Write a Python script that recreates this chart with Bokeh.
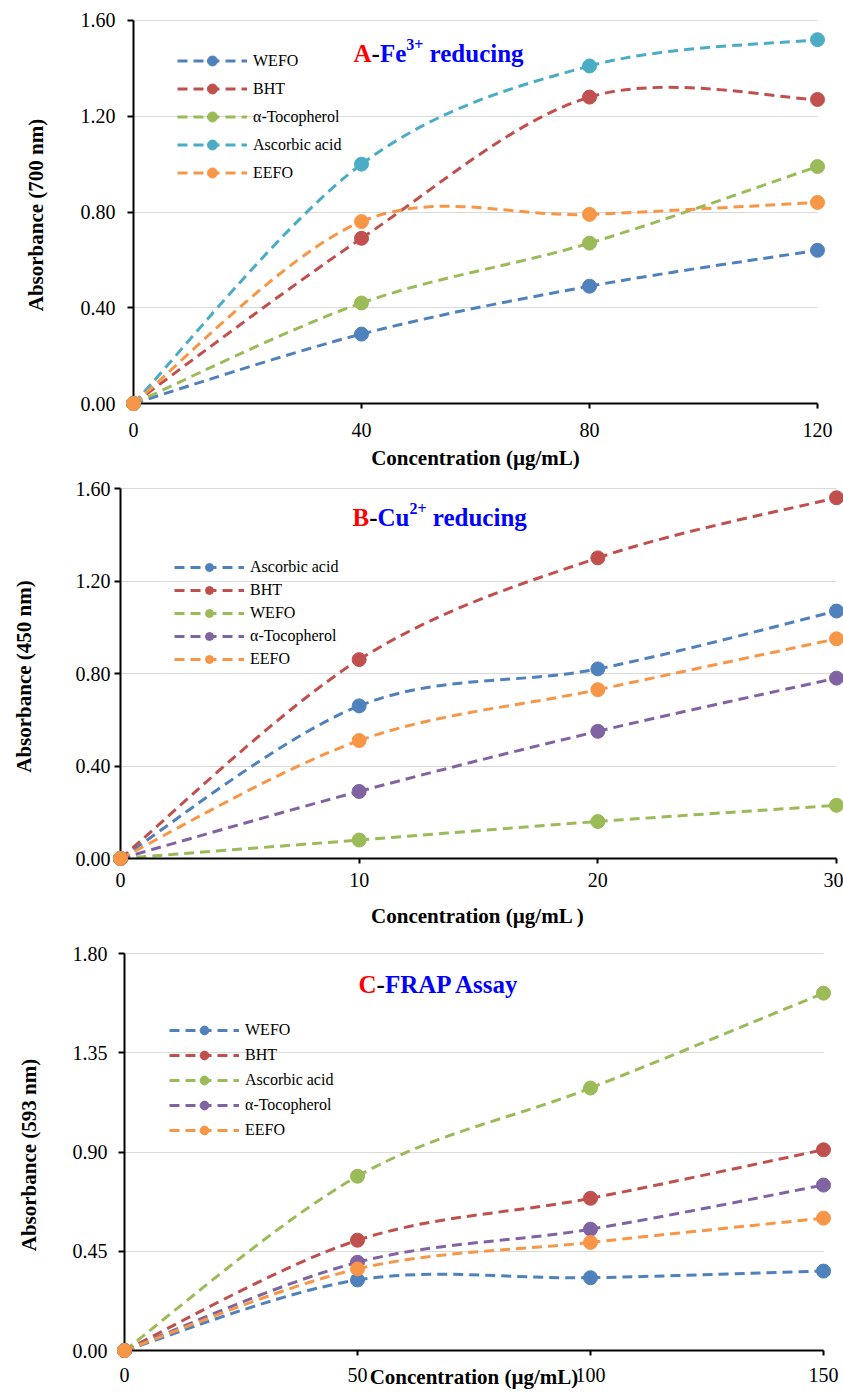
import numpy as np
from bokeh.plotting import figure
from bokeh.models import (Legend, LegendItem, Label, FixedTicker, PrintfTickFormatter, Range1d,
                          LinearAxis)
from bokeh.embed import file_html
from bokeh.resources import INLINE

# ---------------- data ----------------
a_conc = [0, 40, 80, 120]
a_wefo = [0, 0.29, 0.49, 0.64]
a_bht = [0, 0.69, 1.28, 1.27]
a_toco = [0, 0.42, 0.67, 0.99]
a_asc = [0, 1.00, 1.41, 1.52]
a_eefo = [0, 0.76, 0.79, 0.84]
a_yticks = [0, 0.4, 0.8, 1.2, 1.6]

b_conc = [0, 10, 20, 30]
b_asc = [0, 0.66, 0.82, 1.07]
b_bht = [0, 0.86, 1.30, 1.56]
b_wefo = [0, 0.08, 0.16, 0.23]
b_toco = [0, 0.29, 0.55, 0.78]
b_eefo = [0, 0.51, 0.73, 0.95]
b_yticks = [0, 0.4, 0.8, 1.2, 1.6]

c_conc = [0, 50, 100, 150]
c_wefo = [0, 0.32, 0.33, 0.36]
c_bht = [0, 0.50, 0.69, 0.91]
c_asc = [0, 0.79, 1.19, 1.62]
c_toco = [0, 0.40, 0.55, 0.75]
c_eefo = [0, 0.37, 0.49, 0.60]
c_yticks = [0, 0.45, 0.9, 1.35, 1.8]

BLUE, RED, GREEN, PURPLE, AQUA, ORANGE = "#4F81BD", "#C0504D", "#9BBB59", "#8064A2", "#4BACC6", "#F79646"
FONT = "Liberation Serif"

# Times bold advance widths (em/1000) for the title pieces
TW = {"A": 722, "B": 667, "C": 722, "F": 611, "P": 611, "R": 722, "a": 500, "c": 444, "d": 556,
      "e": 444, "g": 500, "i": 278, "n": 556, "r": 444, "s": 389, "u": 556, "y": 500, " ": 250,
      "-": 333, "2": 500, "3": 500, "+": 570}


def tw(text, size):
    return sum(TW.get(ch, 500) for ch in text) * size / 1000.0


def smooth(x, y):
    x = np.asarray(x, float)
    y = np.asarray(y, float)
    n = len(x)
    qx = np.concatenate([[x[0]], x, [x[-1]]])
    qy = np.concatenate([[y[0]], y, [y[-1]]])
    cx0 = qx[1:n] + (qx[2:n + 1] - qx[0:n - 1]) / 6
    cy0 = qy[1:n] + (qy[2:n + 1] - qy[0:n - 1]) / 6
    cx1 = qx[2:n + 1] - (qx[3:n + 2] - qx[1:n]) / 6
    cy1 = qy[2:n + 1] - (qy[3:n + 2] - qy[1:n]) / 6
    return dict(x0=x[:-1], y0=y[:-1], x1=x[1:], y1=y[1:], cx0=cx0, cy0=cy0, cx1=cx1, cy1=cy1)


def make_panel(P):
    W = 843
    H = P["height"]
    top = P["top_abs"]
    axL = P["axL"]
    axR = P["axR"]
    axT = P["axT"] - top
    axB = P["axB"] - top
    xmax, ymax = P["xmax"], P["ymax"]
    xppu = (axR - axL) / xmax
    yppu = (axB - axT) / ymax
    pad = 8
    fL, fR, fT, fB = axL - pad, min(axR + pad, W), axT - 2, axB + pad
    p = figure(width=W, height=H,
               x_range=Range1d(-pad / xppu, xmax + (fR - axR) / xppu),
               y_range=Range1d(-pad / yppu, ymax + (axT - fT) / yppu),
               output_backend="svg", toolbar_location=None,
               min_border_left=fL, min_border_right=W - fR,
               min_border_top=fT, min_border_bottom=H - fB)
    p.outline_line_color = None
    p.background_fill_color = "white"

    def dx(absx):
        return (absx - axL) / xppu

    def dy(absy):
        return (axB - (absy - top)) / yppu

    # axes at the frame edge: only tick labels and axis titles
    xa = p.xaxis[0]
    ya = p.yaxis[0]
    for ax in (xa, ya):
        ax.axis_line_color = None
        ax.major_tick_line_color = None
        ax.minor_tick_line_color = None
        ax.major_tick_in = 0
        ax.major_tick_out = 0
        ax.major_label_text_font = FONT
        ax.major_label_text_font_size = "20px"
        ax.major_label_text_color = "black"
        ax.axis_label_text_font = FONT
        ax.axis_label_text_font_style = "bold"
        ax.axis_label_text_font_size = "21px"
        ax.axis_label_text_color = "black"
    xa.ticker = FixedTicker(ticks=P["xticks"])
    ya.ticker = FixedTicker(ticks=P["yticks"])
    ya.formatter = PrintfTickFormatter(format="%.2f")
    xa.major_label_standoff = P["xstand"]
    ya.major_label_standoff = P["ystand"]
    xa.axis_label = P["xlabel"]
    ya.axis_label = P["ylabel"]
    xa.axis_label_standoff = P["xlstand"]
    ya.axis_label_standoff = P["ylstand"]

    # axis lines and ticks drawn at the data origin
    for side, ticks, bnd, tout in (("below", P["xticks"], (0, xmax), 5),
                                   ("left", P["yticks"], (0, ymax), 6)):
        ln = LinearAxis(fixed_location=0, bounds=bnd, ticker=FixedTicker(ticks=ticks),
                        axis_line_color="black", axis_line_width=2,
                        major_tick_line_color="black", major_tick_line_width=2,
                        major_tick_in=0, major_tick_out=tout, minor_tick_line_color=None,
                        major_label_text_color=None, major_label_text_font_size="1px")
        p.add_layout(ln, side)

    p.xgrid.visible = False
    p.ygrid.grid_line_color = "#D9D9D9"
    p.ygrid.grid_line_width = 1
    try:
        p.ygrid.cross_bounds = (0, xmax)
    except Exception:
        pass

    items = []
    for label, vals, color in P["series"]:
        bz = p.bezier(line_color=color, line_width=3, line_dash="10 6", **smooth(P["x"], vals))
        sc = p.scatter(P["x"], vals, size=14, marker="circle", fill_color=color,
                       line_color=color, level="overlay")
        items.append(LegendItem(label=label, renderers=[bz, sc]))

    row = P["leg_row"]
    sp = 3
    gh = row - sp
    leg_top = P["leg_row1"] - top - gh / 2
    leg_height = 5 * gh + 4 * sp
    vy = fB - (leg_top + leg_height)
    vx = P["leg_x"] - fL
    legend = Legend(items=items, location=(int(round(vx)), int(round(vy))),
                    background_fill_alpha=0, border_line_alpha=0, padding=0, margin=0,
                    spacing=sp, glyph_width=70, glyph_height=gh, label_height=gh,
                    label_standoff=6, label_text_font=FONT, label_text_font_size="16px",
                    label_text_color="black")
    p.add_layout(legend)

    # multi-coloured title
    tx, tyb = P["title_xy"]
    off = 0.0
    for txt, col, size, sup in P["title"]:
        lead = len(txt) - len(txt.lstrip(" "))
        off += tw(" " * lead, 25)
        t = txt.strip(" ")
        p.add_layout(Label(x=dx(tx), y=dy(tyb), x_offset=off, y_offset=9 if sup else 0,
                           text=t, text_color=col, text_font=FONT, text_font_style="bold",
                           text_font_size=f"{size}px", text_baseline="alphabetic",
                           text_align="left"))
        off += tw(t, size)
    return p


pA = make_panel(dict(
    height=472, top_abs=0, axL=133, axR=817, axT=20, axB=404, xmax=120, ymax=1.6,
    x=a_conc, xticks=a_conc, yticks=a_yticks,
    xstand=11, ystand=10, xlstand=6, ylstand=30,
    xlabel="Concentration (µg/mL)", ylabel="Absorbance (700 nm)",
    series=[("WEFO", a_wefo, BLUE), ("BHT", a_bht, RED), ("α-Tocopherol", a_toco, GREEN),
            ("Ascorbic acid", a_asc, AQUA), ("EEFO", a_eefo, ORANGE)],
    leg_row=28, leg_row1=62, leg_x=177,
    title_xy=(353, 53),
    title=[("A", "#FF0000", 25, False), ("-", "black", 25, False), ("Fe", "#0000FF", 25, False),
           ("3+", "#0000FF", 16, True), (" reducing", "#0000FF", 25, False)],
))

pB = make_panel(dict(
    height=460, top_abs=472, axL=120, axR=836, axT=488, axB=858, xmax=30, ymax=1.6,
    x=b_conc, xticks=b_conc, yticks=b_yticks,
    xstand=6, ystand=2, xlstand=14, ylstand=37,
    xlabel="Concentration (µg/mL )", ylabel="Absorbance (450 nm)",
    series=[("Ascorbic acid", b_asc, BLUE), ("BHT", b_bht, RED), ("WEFO", b_wefo, GREEN),
            ("α-Tocopherol", b_toco, PURPLE), ("EEFO", b_eefo, ORANGE)],
    leg_row=23, leg_row1=567, leg_x=174,
    title_xy=(352, 517),
    title=[("B", "#FF0000", 25, False), ("-", "black", 25, False), ("Cu", "#0000FF", 25, False),
           ("2+", "#0000FF", 16, True), (" reducing", "#0000FF", 25, False)],
))

pC = make_panel(dict(
    height=460, top_abs=932, axL=124, axR=823, axT=953, axB=1350, xmax=150, ymax=1.8,
    x=c_conc, xticks=c_conc, yticks=c_yticks,
    xstand=9, ystand=9, xlstand=-20, ylstand=29,
    xlabel="Concentration (µg/mL)", ylabel="Absorbance (593 nm)",
    series=[("WEFO", c_wefo, BLUE), ("BHT", c_bht, RED), ("Ascorbic acid", c_asc, GREEN),
            ("α-Tocopherol", c_toco, PURPLE), ("EEFO", c_eefo, ORANGE)],
    leg_row=25, leg_row1=1030, leg_x=169,
    title_xy=(358, 984),
    title=[("C", "#FF0000", 25, False), ("-", "black", 25, False),
           ("FRAP Assay", "#0000FF", 25, False)],
))

open("out.html", "w").write(file_html([pA, pB, pC], INLINE))
